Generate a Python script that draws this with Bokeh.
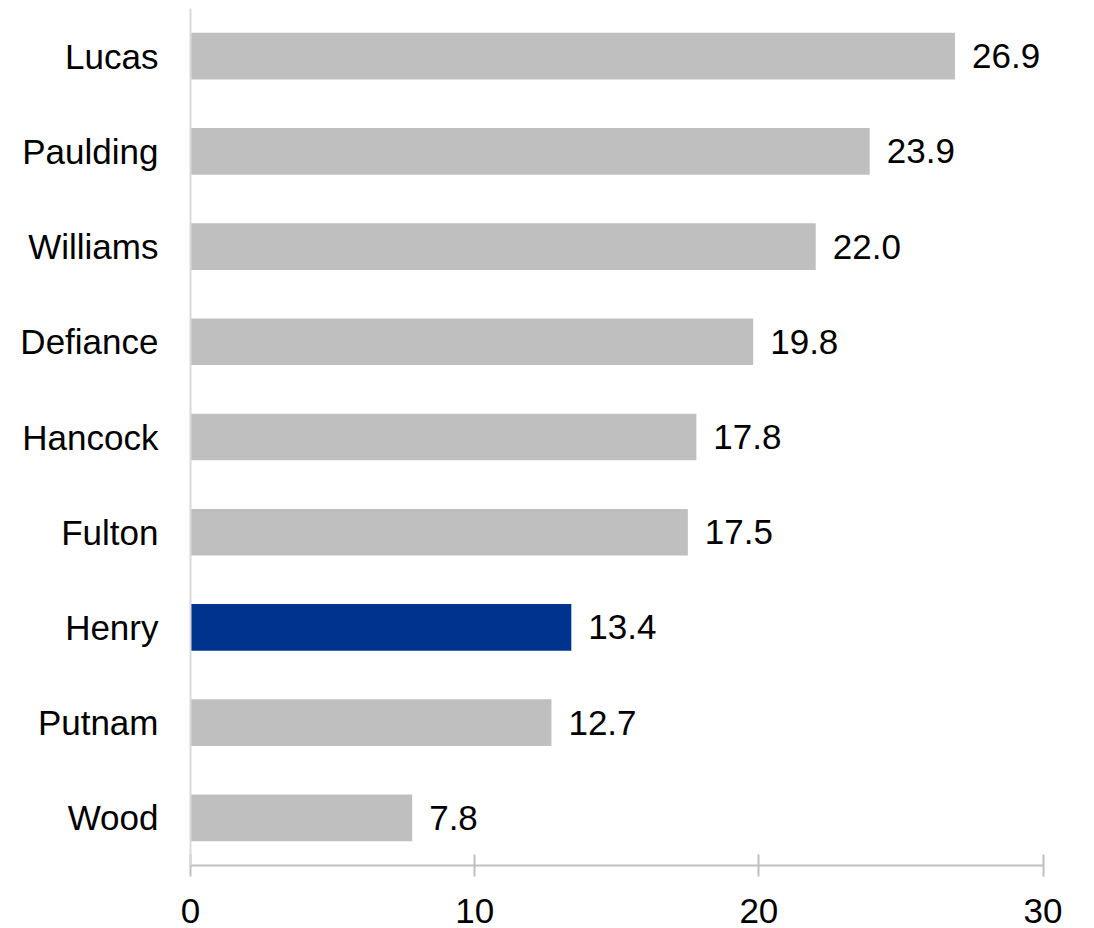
from bokeh.plotting import figure
from bokeh.models import ColumnDataSource, FactorRange, Range1d, FixedTicker
from bokeh.embed import file_html
from bokeh.resources import INLINE
from bokeh.core.properties import value

counties = ["Lucas", "Paulding", "Williams", "Defiance", "Hancock", "Fulton", "Henry", "Putnam", "Wood"]
values = [26.9, 23.9, 22.0, 19.8, 17.8, 17.5, 13.4, 12.7, 7.8]
highlight = "Henry"

GRAY = "#BFBFBF"
BLUE = "#00338D"
FONT = "Liberation Sans"
FS = "35px"

colors = [BLUE if c == highlight else GRAY for c in counties]
labels = [f"{v:.1f}" for v in values]

src = ColumnDataSource(dict(county=counties, val=values, color=colors, label=labels))

p = figure(
    width=1094, height=928,
    y_range=FactorRange(*counties[::-1]),
    x_range=Range1d(0, 31),
    output_backend="svg", toolbar_location=None,
    min_border_left=190, min_border_right=23, min_border_top=8, min_border_bottom=63,
)
p.outline_line_color = None
p.grid.visible = False
p.background_fill_color = "white"
p.border_fill_color = "white"

p.hbar(y="county", left=0, right="val", height=0.49, fill_color="color", line_color=None, source=src)
p.text(x="val", y="county", text="label", source=src, x_offset=17,
       text_align="left", text_baseline="middle", text_font=value(FONT),
       text_font_size=FS, text_color="black")

xa = p.xaxis[0]
xa.ticker = FixedTicker(ticks=[0, 10, 20, 30])
xa.bounds = (0, 30)
xa.axis_line_color = GRAY
xa.axis_line_width = 2
xa.major_tick_line_color = GRAY
xa.major_tick_line_width = 2
xa.major_tick_in = 11
xa.major_tick_out = 11
xa.minor_tick_line_color = None
xa.major_label_text_font = FONT
xa.major_label_text_font_size = FS
xa.major_label_text_color = "black"
xa.major_label_standoff = 22

ya = p.yaxis[0]
ya.axis_line_color = "#D9D9D9"
ya.axis_line_width = 2
ya.major_tick_line_color = None
ya.minor_tick_line_color = None
ya.major_label_text_font = FONT
ya.major_label_text_font_size = FS
ya.major_label_text_color = "black"
ya.major_label_standoff = 26

open("out.html", "w").write(file_html(p, INLINE))
